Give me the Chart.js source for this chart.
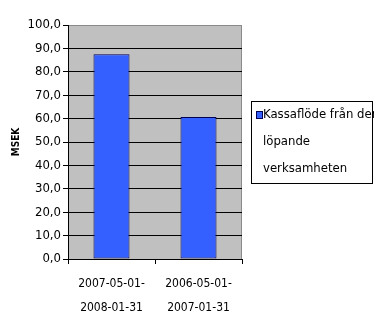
<!DOCTYPE html>
<html><head><meta charset="utf-8">
<script src="https://cdn.jsdelivr.net/npm/chart.js@4"></script>
<style>html,body{margin:0;padding:0;background:#fff}#wrap{width:374px;height:324px}</style>
</head><body><div id="wrap"><canvas id="c" width="374" height="324"></canvas></div>
<script>
const categories = [['2007-05-01-', '2008-01-31'], ['2006-05-01-', '2007-01-31']];
const values = [87.5, 60.7];
const seriesLabel = 'Kassaflöde från den löpande verksamheten';
const legendLines = ['Kassaflöde från den', 'löpande', 'verksamheten'];
const yTitle = 'MSEK';
const yMin = 0, yMax = 100, yStep = 10;

const FONT = "'Liberation Sans Narrow','DejaVu Sans Condensed','Liberation Sans',sans-serif";
const barColor = '#3360ff';
const barBorder = '#000055';

const bgPlugin = {
  id: 'bg',
  beforeDraw(chart) {
    const a = chart.chartArea, ctx = chart.ctx;
    ctx.save();
    ctx.fillStyle = '#c0c0c0';
    ctx.fillRect(a.left, a.top, a.right - a.left, a.bottom - a.top);
    ctx.strokeStyle = '#8a8a8a';
    ctx.lineWidth = 1;
    ctx.strokeRect(a.left + 0.5, a.top + 0.5, a.right - a.left - 1, a.bottom - a.top);
    ctx.restore();
  }
};

const legendPlugin = {
  id: 'boxLegend',
  afterDraw(chart) {
    const ctx = chart.ctx;
    const x0 = 251, y0 = 101, x1 = 373, y1 = 183;
    ctx.save();
    ctx.strokeStyle = '#000';
    ctx.lineWidth = 1;
    ctx.strokeRect(x0 + 0.5, y0 + 0.5, x1 - x0 - 1, y1 - y0);
    const ds = chart.data.datasets[0];
    ctx.fillStyle = ds.backgroundColor;
    ctx.fillRect(256, 111, 6, 7);
    ctx.strokeStyle = ds.borderColor;
    ctx.strokeRect(256.5, 111.5, 6, 7);
    ctx.fillStyle = '#000';
    ctx.font = "13px " + FONT;
    ctx.textBaseline = 'middle';
    ctx.textAlign = 'left';
    legendLines.forEach((t, i) => ctx.fillText(t, 263, 115 + i * 27));
    ctx.restore();
  }
};

new Chart(document.getElementById('c'), {
  type: 'bar',
  data: {
    labels: categories,
    datasets: [{
      label: seriesLabel,
      data: values,
      backgroundColor: barColor,
      borderColor: barBorder,
      borderWidth: 1,
      borderSkipped: false,
      categoryPercentage: 1,
      barPercentage: 0.414
    }]
  },
  options: {
    responsive: false,
    animation: false,
    devicePixelRatio: 1,
    layout: { padding: { left: 0, top: 25, right: 132, bottom: 0 } },
    plugins: { legend: { display: false }, tooltip: { enabled: false } },
    scales: {
      y: {
        min: yMin, max: yMax,
        afterFit(s) { s.width = 68; },
        ticks: {
          stepSize: yStep,
          color: '#000',
          padding: 2,
          font: { family: FONT, size: 13 },
          callback: v => v.toFixed(1).replace('.', ',')
        },
        grid: {
          color: c => (c.tick && c.tick.value === yMax) ? '#8a8a8a' : '#000',
          tickColor: '#000',
          tickLength: 5,
          lineWidth: 1
        },
        border: { color: '#000', width: 1 },
        title: {
          display: true, text: yTitle, color: '#000',
          font: { family: FONT, size: 10, weight: 'bold' },
          padding: { top: 10, bottom: 0 }
        }
      },
      x: {
        afterFit(s) { s.height = 65; },
        ticks: {
          color: '#000',
          padding: 8,
          maxRotation: 0,
          font: { family: FONT, size: 12, lineHeight: 2 }
        },
        grid: {
          offset: true,
          drawOnChartArea: false,
          color: '#000',
          tickLength: 5
        },
        border: { color: '#000', width: 1 }
      }
    }
  },
  plugins: [bgPlugin, legendPlugin]
});
</script></body></html>
